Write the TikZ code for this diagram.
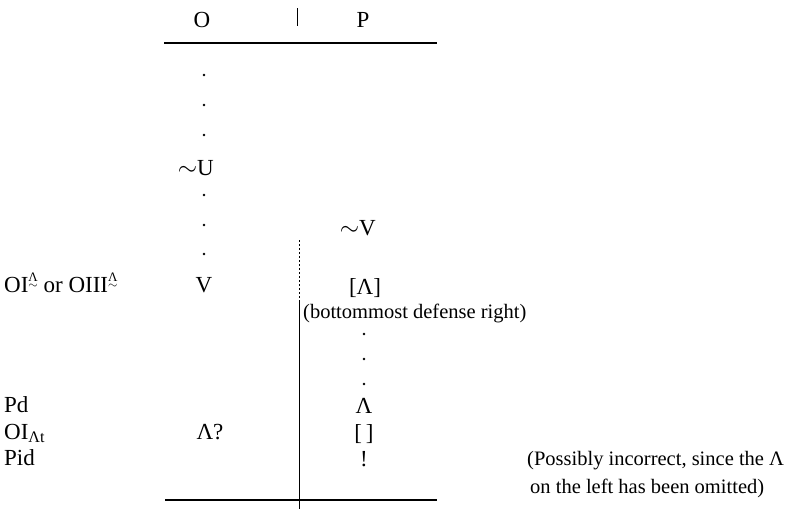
\documentclass[tikz,border=0pt]{standalone}
\usepackage{amsmath}
\usepackage{fontspec}
\setmainfont{Liberation Serif}
\newcommand{\lamtil}{{\fontsize{13}{13}\selectfont\ooalign{\hfil\raisebox{11pt}{Λ}\hfil\cr\raisebox{3.3pt}{$\sim$}\cr}}}
\tikzset{
  txt/.style={inner sep=0pt, anchor=base, font=\fontsize{23}{26}\selectfont},
  lbl/.style={txt, anchor=base west},
  prose/.style={lbl, font=\fontsize{20.5}{24}\selectfont},
  pt/.style={circle, fill=black, inner sep=0pt, minimum size=2.8pt},
  rule/.style={line width=1.3pt}
}
\begin{document}
\begin{tikzpicture}[x=1pt,y=-1pt]
    \useasboundingbox (0,0) rectangle (793,509);
    % heading
    \node [txt] (hO) at (202,27) {O};
    \node [txt] (hP) at (363,27) {P};
    \coordinate (bart) at (297,8);
    \coordinate (barb) at (297,26);
    \draw [line width=0.6pt] (bart) -- (barb);
    \coordinate (rtl) at (164,43);
    \coordinate (rtr) at (437,43);
    \draw [rule] (rtl) -- (rtr);
    % left column
    \foreach \y/\n in {75/a,105/b,135/c,195/d,225/e,254/f}
        \node [pt] (o\n) at (204,\y) {};
    \node [txt, anchor=base east] (nU) at (214,175) {$\sim$U};
    \node [txt] (oV) at (204,292) {V};
    \node [txt] (oLq) at (210,439) {Λ?};
    % right column
    \node [txt, anchor=base east] (nV) at (376,235) {$\sim$V};
    \node [txt] (pLb) at (365,294) {[Λ]};
    \node [prose] (pdef) at (303,318) {(bottommost defense right)};
    \foreach \y/\n in {334/a,359/b,384/c}
        \node [pt] (p\n) at (364,\y) {};
    \node [txt] (pL) at (364,413) {Λ};
    \node [txt] (pbr) at (364,440) {[\,]};
    \node [txt] (pex) at (364,466) {!};
    % rule names
    \node [lbl] (rOI) at (4,292) {OI\lamtil{} or OIII\lamtil};
    \node [lbl] (rPd) at (4,412) {Pd};
    \node [lbl] (rOIt) at (4,439) {OI\textsubscript{Λt}};
    \node [lbl] (rPid) at (4,465) {Pid};
    % remark
    \node [prose] (rem1) at (527,465) {(Possibly incorrect, since the Λ};
    \node [prose] (rem2) at (530,493) {on the left has been omitted)};
    % vertical and bottom rule
    \coordinate (vt) at (299,240);
    \coordinate (vm) at (299,300);
    \coordinate (vb) at (299,509);
    \draw [line width=0.6pt, dash pattern=on 2pt off 2pt] (vt) -- (vm);
    \draw [line width=0.6pt] (vm) -- (vb);
    \coordinate (rbl) at (165,500);
    \coordinate (rbr) at (437,500);
    \draw [rule] (rbl) -- (rbr);
\end{tikzpicture}
\end{document}
